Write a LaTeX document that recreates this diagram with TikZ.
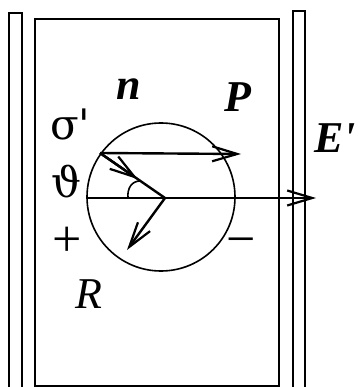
\documentclass[tikz,border=0pt]{standalone}
\usepackage{fontspec}
\setmainfont{Liberation Serif}
\newfontfamily\greekfont{DejaVu Serif}
\usetikzlibrary{arrows.meta,calc}
\tikzset{
  frame/.style={line width=1.6pt},
  vec/.style={line width=2.4pt,-{Straight Barb[length=25pt,width=15pt,line width=2.2pt]}},
  plain/.style={line width=2.4pt},
  thin/.style={line width=1.6pt},
  lbl/.style={inner sep=0pt,anchor=base,font=\fontsize{44}{44}\selectfont},
  sgn/.style={inner sep=0pt,anchor=base,font=\fontsize{52}{52}\selectfont},
  bi/.style={lbl,font=\fontsize{44}{44}\selectfont\bfseries\itshape},
  gk/.style={lbl,anchor=base west,font=\fontsize{42}{42}\selectfont\greekfont},
}
\begin{document}
\begin{tikzpicture}[x=1pt,y=-1pt]
\useasboundingbox (0,0) rectangle (360,387);
% plates and box
\draw[frame] (9,387) -- (9,13) -- (22,13) -- (22,387);
\draw[frame] (293,387) -- (293,11) -- (305,11) -- (305,387);
\draw[frame] (35,386) -- (35,19) -- (279,19) -- (279,386) -- cycle;
% circle
\node[draw,thin,circle,minimum size=148pt,inner sep=0pt] (c) at (161,197) {};
% points
\coordinate (A) at (100,153);
\coordinate (O) at (165,198);
\coordinate (L) at (88,198);
\coordinate (Et) at (316,198);
\coordinate (Pt) at (241,154);
\coordinate (Rt) at (127,250);
\coordinate (M) at ($(A)!0.58!(O)$);
% vectors
\draw[plain] (L) -- (O);
\draw[vec] (O) -- (Et);
\draw[vec] (A) -- (Pt);
\draw[plain] (A) -- (O);
\draw[vec] (A) -- (M);
\draw[vec] (O) -- (Rt);
% angle arc
\draw[thin] (128,198) .. controls (127,188) and (132,181) .. (140,181);
% labels
\node[bi] (n) at (129,100) {n};
\node[bi] (P) at (238,112) {P};
\node[bi,anchor=base west] (E) at (314,153) {E\textquotesingle};
\node[lbl,font=\fontsize{44}{44}\selectfont\itshape] (R) at (89,308) {R};
\node[gk] (s) at (50,140) {σ\textquotesingle};
\node[gk] (t) at (51,197) {ϑ};
\node[sgn] (plus) at (67,256) {+};
\node[sgn] (minus) at (241,256) {−};
\end{tikzpicture}
\end{document}
